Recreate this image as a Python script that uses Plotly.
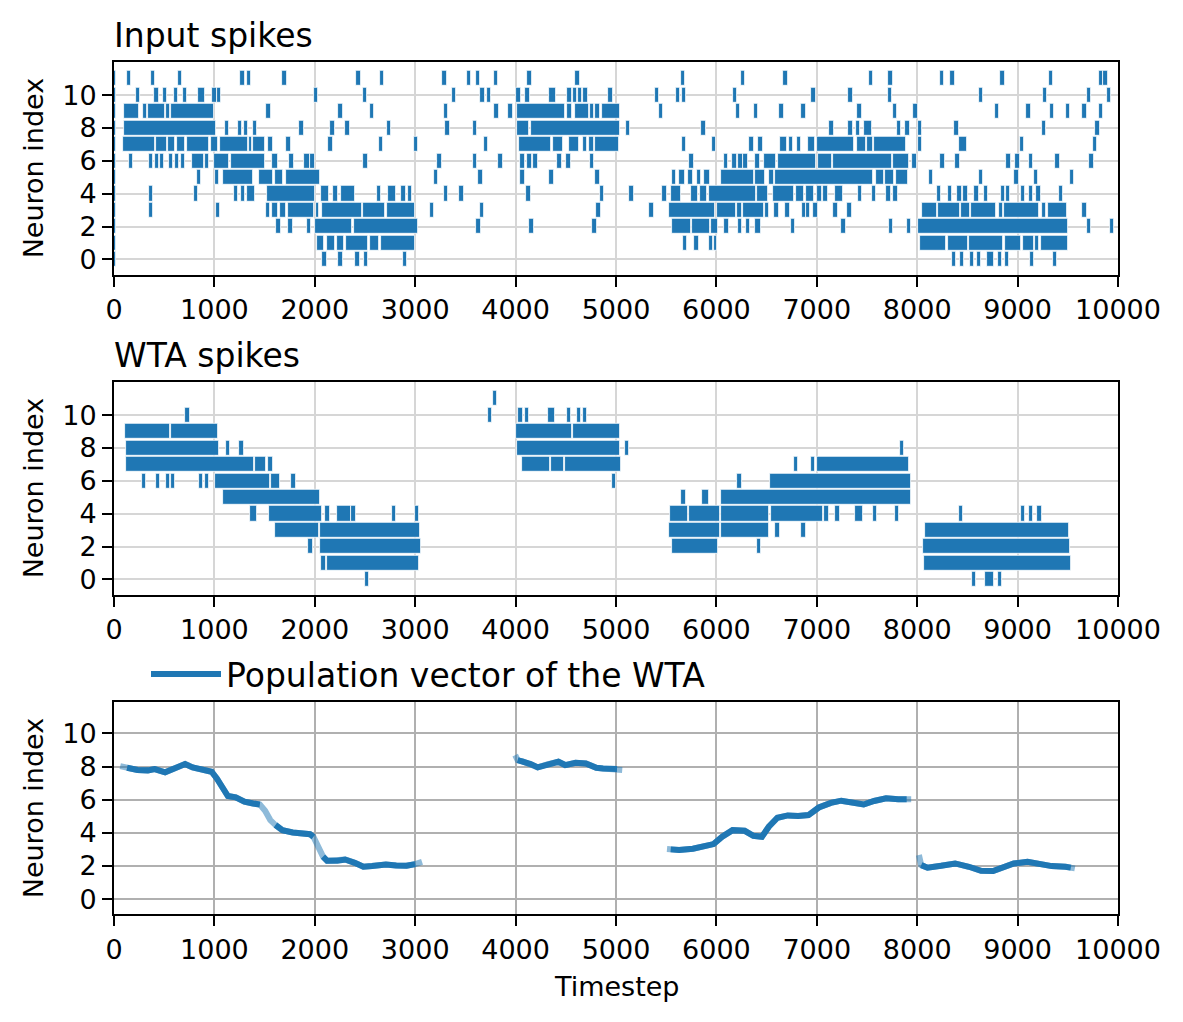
import plotly.graph_objects as go
from plotly.subplots import make_subplots

BLUE = '#1f77b4'
FONT = 'DejaVu Sans'

x_ticks = [0, 1000, 2000, 3000, 4000, 5000, 6000, 7000, 8000, 9000, 10000]
y_ticks = [0, 2, 4, 6, 8, 10]

# spike times per neuron: a single number is one spike, [start, end] is a dense burst
input_n11 = [0, 147, 387, 657, 1280, 1347, 1697, 2437, 2667, 3290, 3537, 3627, 3807, 4137,
             4617, 5667, 6267, 6690, 7537, 7736, 8247, 8353, 8851, 9333, 9831, 9877]
input_n10 = [0, 237, 423, 510, 620, 710, [833, 907], 1000, 1047, 2010, 2500, 3387, 3670, 3737,
             4030, 4117, [4333, 4407], 4537, 4590, 4643, 4697, 4947, 5407, 5620, 5677, 6187,
             6969, 7337, 7729, 8635, 9273, 9711, 9910]
input_n9 = [0, [100, 250], [293, 327], [337, 510], [520, 560], [567, 993], 1537, 2257, 2567,
            3307, 3810, 3950, [4010, 4493], 4537, [4587, 4733], [4743, 4783], [4793, 4837],
            [4860, 5037], 5447, 6217, 6397, 6650, 6869, 7427, 7779, 7985, 8795, 9110, 9340,
            9502, 9668, 9828]
input_n8 = [0, [100, 1020], 1127, 1257, 1317, 1407, 1867, 2177, 2327, 2737, 3320, 3597,
            [4010, 4137], [4150, 5037], 5117, 5870, 7148, 7337, 7408, [7471, 7547], 7819, 7905,
            8025, 8393, 9260, 9797]
input_n7 = [0, [90, 410], [420, 527], [540, 610], [623, 710], [730, 950], [970, 1040],
            [1060, 1330], [1340, 1377], [1387, 1500], 1557, 1737, 2157, 2657, 3007, 3707,
            [4037, 4350], [4370, 4470], [4530, 4630], [4670, 4713], [4730, 4777], [4787, 5030],
            5680, 5975, 6350, 6440, [6630, 6700], 6745, 6825, [6912, 6979], [6999, 7370],
            [7400, 7486], [7500, 7556], [7570, 7888], 8025, [8419, 8492], 9043, 9771]
input_n6 = [0, 170, 367, 427, 477, 570, 630, 687, [780, 897], 927, [1000, 1147], [1170, 1500],
            [1570, 1637], 1767, [1890, 1950], 1977, 2507, 3240, 3597, 3850, 4067, 4137, 4197,
            4437, 4527, 4760, 5750, 6095, 6180, 6240, 6290, 6410, [6470, 6590], [6610, 6992],
            [7015, 7152], [7161, 7747], [7756, 7919], 7971, 8254, 8403, 8911, 9001, 9131, 9398,
            9737]
input_n5 = [0, 847, 1027, [1083, 1387], [1440, 1580], [1600, 1687], [1710, 2047], 3207, 3650,
            4067, [4333, 4387], 4817, 5580, [5630, 5690], 5740, 5825, [5880, 5935], [6050, 6370],
            [6385, 6480], [6525, 6570], [6585, 7560], [7590, 7667], [7680, 7766], [7789, 7909],
            8137, 8635, 8987, 9183, 9541]
input_n4 = [0, 367, 817, 1217, 1287, [1327, 1407], [1520, 1997], [2063, 2137], 2207,
            [2257, 2397], 2637, [2733, 2807], 2883, 2947, 3307, 3460, 4127, 4860, 5155, 5485,
            [5550, 5645], [5745, 5815], [5840, 5905], [5930, 6390], [6405, 6510], [6560, 6773],
            [6793, 6873], [6893, 6973], 7025, 7088, [7185, 7258], 7430, 7570, 7716, 7783, 8217,
            8327, 8423, 8483, 8592, 8685, 8855, 8905, 9051, 9131, 9210, 9430]
input_n3 = [0, 367, 1037, [1513, 1553], [1570, 1637], [1650, 1717], [1730, 1990], [2007, 2037],
            [2070, 2467], [2480, 2700], [2720, 3000], 3167, 3665, 4825, 5355, [5530, 5990],
            [6005, 6200], [6210, 6255], [6268, 6470], [6480, 6520], 6600, 6710, 6870, 6915, 6989,
            7188, 7327, [8051, 8197], [8207, 8423], [8436, 8523], [8536, 8785], [8815, 8851],
            [8865, 9214], [9247, 9287], [9304, 9493], 9668]
input_n2 = [0, 1637, 1757, 1940, [1997, 2367], [2390, 3027], 3630, 4160, 4785, [5560, 5750],
            [5760, 5940], [5950, 6015], 6100, 6235, 6315, [6385, 6445], 6760, 7267, 7739, 7918,
            [8008, 9499], 9711, 9943]
input_n1 = [0, [2020, 2093], [2123, 2197], [2220, 2287], [2310, 2527], [2550, 2637],
            [2657, 3000], 5690, 5800, [5930, 5965], [5975, 6010], [8031, 8290], [8310, 8506],
            [8519, 8858], [8878, 9038], [9058, 9167], [9177, 9217], [9237, 9502]]
input_n0 = [0, 2097, 2257, 2427, 2510, 2897, 8366, 8446, 8543, 8616, [8692, 8762], 8825, 8895,
            9144, 9373]

wta_n11 = [3795]
wta_n10 = [730, 3745, 4050, 4113, [4326, 4389], 4532, 4631, 4691]
wta_n9 = [[110, 560], [570, 1040], [4004, 4562], [4572, 5040]]
wta_n8 = [[120, 1050], 1137, 1270, [4014, 5040], 5110, 7848]
wta_n7 = [[120, 1390], [1400, 1510], 1560, [4064, 4343], [4353, 4482], [4492, 5050], 6790,
          6965, [6999, 7918]]
wta_n6 = [297, 437, 540, 590, 867, 927, [1010, 1550], [1560, 1650], 1787, 4980, 6228,
          [6534, 7938]]
wta_n5 = [[1090, 2047], 5674, [5857, 5922], [6046, 7938]]
wta_n4 = [[1350, 1427], [1540, 2067], 2127, [2220, 2360], 2387, 2787, 3017, [5538, 5714],
          [5727, 6036], [6046, 6524], [6544, 7058], 7098, 7208, [7380, 7457], 7580, 7796, 8436,
          9054, 9134, 9220]
wta_n3 = [[1600, 2040], [2050, 3047], [5528, 6036], [6046, 6524], 6610, 6866, [8078, 9509]]
wta_n2 = [1957, [2050, 3060], [5558, 6016], 6424, [8058, 9522]]
wta_n1 = [2087, [2120, 3040], [8068, 9532]]
wta_n0 = [2517, 8566, [8676, 8762], 8825]

input_rows = [input_n0, input_n1, input_n2, input_n3, input_n4, input_n5, input_n6, input_n7,
              input_n8, input_n9, input_n10, input_n11]
wta_rows = [wta_n0, wta_n1, wta_n2, wta_n3, wta_n4, wta_n5, wta_n6, wta_n7, wta_n8, wta_n9,
            wta_n10, wta_n11]

# population vector of the WTA, None separates the silent periods
pop_t = [62, 130, 234, 337, 405, 509, 594, 708, 783, 886, 972, 1024, 1075, 1134, 1213, 1299,
         1385, 1453, 1505, 1557, 1608, 1677, 1780, 1883, 1952, 1986, 2020, 2055, 2082, 2123,
         2226, 2302, 2398, 2484, 2570, 2708, 2811, 2914, 3000, 3068, None,
         3996, 4020, 4065, 4151, 4220, 4323, 4426, 4494, 4597, 4700, 4804, 4870, 4942, 5010,
         5062, None,
         5508, 5545, 5629, 5766, 5869, 5972, 6058, 6161, 6282, 6368, 6453, 6522, 6608, 6711,
         6814, 6917, 7020, 7140, 7244, 7364, 7467, 7570, 7690, 7811, 7895, 7940, None,
         8017, 8040, 8103, 8240, 8378, 8515, 8636, 8756, 8841, 8962, 9099, 9202, 9340, 9477,
         9530, 9570]
pop_v = [8.03, 7.93, 7.79, 7.77, 7.85, 7.65, 7.85, 8.15, 7.95, 7.83, 7.69, 7.28, 6.78, 6.22,
         6.14, 5.88, 5.77, 5.71, 5.33, 4.77, 4.47, 4.16, 4.02, 3.96, 3.92, 3.76, 3.36, 2.96,
         2.56, 2.31, 2.31, 2.39, 2.19, 1.95, 1.99, 2.09, 2.03, 2.01, 2.11, 2.25, None,
         8.69, 8.39, 8.33, 8.15, 7.95, 8.15, 8.29, 8.09, 8.23, 8.19, 7.93, 7.88, 7.87, 7.85,
         7.79, None,
         3.02, 3.00, 2.96, 3.04, 3.20, 3.32, 3.76, 4.16, 4.12, 3.82, 3.76, 4.37, 4.91, 5.05,
         5.01, 5.07, 5.53, 5.81, 5.94, 5.81, 5.71, 5.92, 6.08, 6.02, 6.02, 6.02, None,
         2.66, 2.05, 1.89, 2.01, 2.15, 1.95, 1.71, 1.69, 1.85, 2.15, 2.25, 2.11, 1.99, 1.95,
         1.90, 1.85]
# 1 where enough WTA neurons fire for a confident estimate
pop_strong = [0, 1, 1, 1, 1, 1, 1, 1, 1, 1, 1, 1, 1, 1, 1, 1, 1, 1, 0, 0, 1, 1, 1, 1, 1, 1,
              0, 0, 1, 1, 1, 1, 1, 1, 1, 1, 1, 1, 1, 0, 0,
              0, 1, 1, 1, 1, 1, 1, 1, 1, 1, 1, 1, 1, 1, 0, 0,
              0, 1, 1, 1, 1, 1, 1, 1, 1, 1, 1, 1, 1, 1, 1, 1, 1, 1, 1, 1, 1, 1, 1, 1, 1, 0, 0,
              0, 1, 1, 1, 1, 1, 1, 1, 1, 1, 1, 1, 1, 1, 1, 0]


def raster_trace(rows, spike_len=44):
    y, base, length = [], [], []
    for idx, spikes in enumerate(rows):
        for s in spikes:
            if isinstance(s, list):
                start, stop = s
            else:
                start, stop = s - spike_len / 2, s + spike_len / 2
            y.append(idx)
            base.append(start)
            length.append(stop - start)
    return go.Bar(orientation='h', y=y, x=length, base=base, width=0.92,
                  marker=dict(color=BLUE, line=dict(color='white', width=0.8)),
                  showlegend=False, hoverinfo='skip')


fig = make_subplots(rows=3, cols=1)

fig.add_trace(raster_trace(input_rows), row=1, col=1)
fig.add_trace(raster_trace(wta_rows), row=2, col=1)

pop_solid = [v if (v is not None and s) else None for v, s in zip(pop_v, pop_strong)]
fig.add_trace(go.Scatter(x=pop_t, y=pop_v, mode='lines', opacity=0.5,
                         line=dict(color=BLUE, width=6), showlegend=False,
                         hoverinfo='skip'), row=3, col=1)
fig.add_trace(go.Scatter(x=pop_t, y=pop_solid, mode='lines', connectgaps=False,
                         line=dict(color=BLUE, width=6),
                         name='Population vector of the WTA'), row=3, col=1)

W, H = 1183, 1022
PAGE = 8  # the browser page margin shifts the figure by this many px


def px_x(p):
    return (p - PAGE) / W


def px_y(p):
    return 1 - (p - PAGE) / H


x_dom = [px_x(114), px_x(1118)]
y_doms = [(61.7, 275), (381.7, 595), (702.3, 914.3)]
y_ranges = [[-0.95, 12.03], [-0.95, 12.03], [-0.92, 11.88]]
grid_colors = ['#d6d6d6', '#d6d6d6', '#b0b0b0']

axis_style = dict(showline=True, linecolor='black', linewidth=2, mirror=True,
                  ticks='outside', ticklen=10, tickwidth=2, tickcolor='black',
                  tickfont=dict(family=FONT, size=27, color='black'),
                  zeroline=False, showgrid=True, gridwidth=1.8, automargin=False)

for i in range(3):
    top, bottom = y_doms[i]
    fig.update_xaxes(axis_style, range=[0, 10000], tickvals=x_ticks, tickformat='d',
                     domain=x_dom, gridcolor=grid_colors[i], row=i + 1, col=1)
    fig.update_yaxes(axis_style, range=y_ranges[i], tickvals=y_ticks,
                     domain=[px_y(bottom), px_y(top)], gridcolor=grid_colors[i],
                     row=i + 1, col=1)
    fig.add_annotation(text='Neuron index', xref='paper', yref='paper',
                       x=px_x(33), y=px_y((top + bottom) / 2), textangle=-90,
                       xanchor='center', yanchor='middle', showarrow=False,
                       font=dict(family=FONT, size=27, color='black'))

fig.add_annotation(text='Input spikes', xref='paper', yref='paper', x=px_x(112), y=px_y(57),
                   xanchor='left', yanchor='bottom', showarrow=False,
                   font=dict(family=FONT, size=33, color='black'))
fig.add_annotation(text='WTA spikes', xref='paper', yref='paper', x=px_x(112), y=px_y(377),
                   xanchor='left', yanchor='bottom', showarrow=False,
                   font=dict(family=FONT, size=33, color='black'))
fig.add_annotation(text='Timestep', xref='paper', yref='paper', x=px_x(616), y=px_y(986),
                   xanchor='center', yanchor='middle', showarrow=False,
                   font=dict(family=FONT, size=27, color='black'))

fig.update_layout(
    width=W, height=H,
    margin=dict(l=0, r=0, t=0, b=0, autoexpand=False),
    paper_bgcolor='white', plot_bgcolor='white',
    barmode='overlay', bargap=0,
    font=dict(family=FONT, color='black'),
    showlegend=True,
    legend=dict(x=px_x(146), y=px_y(674), xanchor='left', yanchor='middle', itemwidth=70,
                bgcolor='rgba(0,0,0,0)', font=dict(family=FONT, size=33, color='black')),
)

fig.write_html('out.html')
